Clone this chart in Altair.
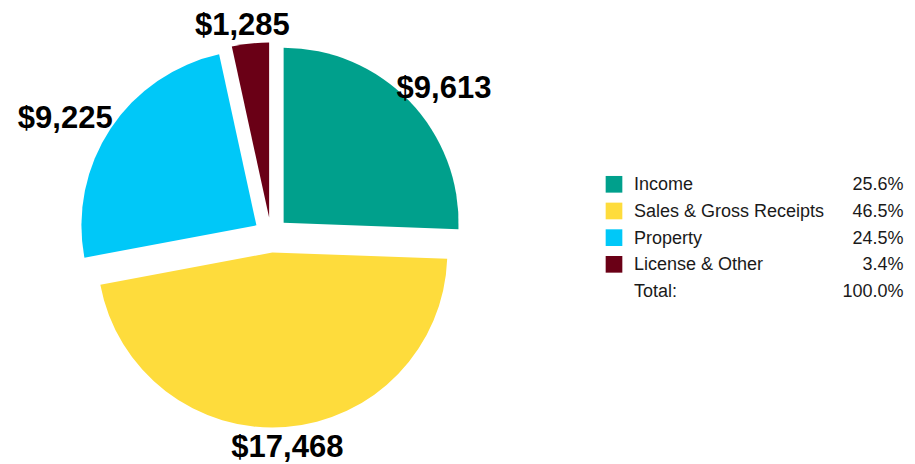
import altair as alt
import pandas as pd

categories = ["Income", "Sales & Gross Receipts", "Property", "License & Other"]
amounts = [9613, 17468, 9225, 1285]
value_labels = ["$9,613", "$17,468", "$9,225", "$1,285"]
percents = ["25.6%", "46.5%", "24.5%", "3.4%"]
colors = ["#00A08C", "#FEDC3C", "#00C8F8", "#6A0016"]
total_row = "Total:"
total_pct = "100.0%"

W, H = 526, 454
CX, CY = W / 2, H / 2
R = 175
EXPLODE = 17.5

df = pd.DataFrame({
    "category": categories,
    "amount": amounts,
    "label": value_labels,
    "order": list(range(len(categories))),
})

base = (
    alt.Chart(df)
    .transform_window(cum="sum(amount)", sort=[alt.SortField("order")], frame=[None, 0])
    .transform_joinaggregate(total="sum(amount)")
    .transform_calculate(
        t0="2*PI*(datum.cum - datum.amount)/datum.total",
        t1="2*PI*datum.cum/datum.total",
    )
    .transform_calculate(mid="(datum.t0 + datum.t1)/2")
    .transform_calculate(
        cx=f"{CX} + {EXPLODE}*sin(datum.mid)",
        cy=f"{CY} - {EXPLODE}*cos(datum.mid)",
        lx=f"{CX} - 2.5 + (197 + length(datum.label)*7.8)*sin(datum.mid)",
        ly=f"{CY} + 1.5 - 212*cos(datum.mid)",
    )
)

color_scale = alt.Scale(domain=categories, range=colors)

arcs = base.mark_arc(radius=R, stroke=None).encode(
    theta=alt.Theta("t0:Q", scale=None),
    theta2="t1:Q",
    x=alt.X("cx:Q", scale=None, axis=None),
    y=alt.Y("cy:Q", scale=None, axis=None),
    color=alt.Color("category:N", scale=color_scale, legend=None),
)

labels = base.mark_text(
    font="Liberation Sans", fontSize=31, fontWeight="bold",
    align="center", baseline="middle", color="#000000",
).encode(
    x=alt.X("lx:Q", scale=None, axis=None),
    y=alt.Y("ly:Q", scale=None, axis=None),
    text="label:N",
)

pie = alt.layer(arcs, labels).properties(width=W, height=H)

rows = categories + [total_row]
leg_df = pd.DataFrame({
    "category": rows,
    "pct": percents + [total_pct],
    "idx": list(range(len(rows))),
})

leg_base = alt.Chart(leg_df).encode(
    y=alt.Y("idx:Q", axis=None, scale=alt.Scale(domain=[0, 4], range=[176.3, 283])),
)

squares = leg_base.transform_filter(f"datum.category != '{total_row}'").mark_square(
    size=278, opacity=1, stroke=None
).encode(
    x=alt.value(80),
    color=alt.Color("category:N", scale=color_scale, legend=None),
)

leg_names = leg_base.mark_text(
    font="Liberation Sans", fontSize=18, align="left", baseline="middle",
    color="#1a1a1a", dy=1,
).encode(x=alt.value(100), text="category:N")

leg_pcts = leg_base.mark_text(
    font="Liberation Sans", fontSize=18, align="right", baseline="middle",
    color="#1a1a1a", dy=1,
).encode(x=alt.value(369.5), text="pct:N")

legend = alt.layer(squares, leg_names, leg_pcts).properties(width=373, height=H)

chart = (
    alt.hconcat(pie, legend, spacing=0)
    .properties(padding=0)
    .configure_view(stroke=None)
)

chart.save("out.html", embed_options={"renderer": "svg", "actions": False})
